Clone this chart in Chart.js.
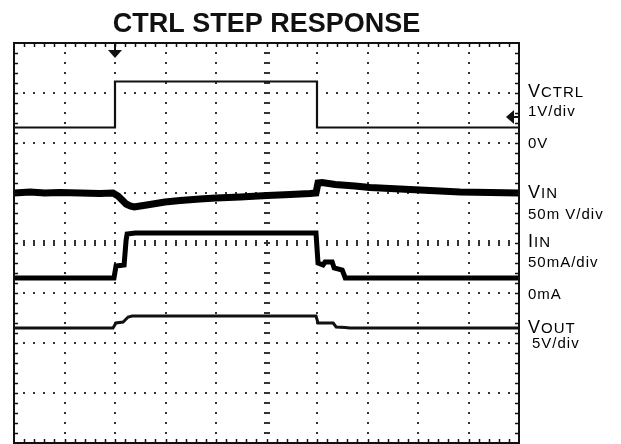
<!DOCTYPE html>
<html>
<head>
<meta charset="utf-8">
<title>CTRL STEP RESPONSE</title>
<script src="https://cdn.jsdelivr.net/npm/chart.js@4.4.1/dist/chart.umd.min.js"></script>
<style>
  html, body { margin: 0; padding: 0; background: #ffffff; }
  #wrap { width: 621px; height: 444px; }
</style>
</head>
<body>
<div id="wrap"><canvas id="scopeChart" width="621" height="444"></canvas></div>
<script>
// time axis in divisions (10 div across), amplitude in divisions (-4..+4)
const vctrlX = [0, 2, 2, 6, 6, 10];
const vctrlY = [2.31, 2.31, 3.23, 3.23, 2.31, 2.31];

const vinX = [0, 0.32, 0.61, 0.91, 1.31, 1.70, 1.96, 2.06, 2.14, 2.22, 2.30, 2.38, 2.50, 2.69, 2.99, 3.29, 3.68,
              4.00, 4.48, 5.01, 5.47, 5.86, 5.98, 6.02, 6.10, 6.36, 6.75, 7.05, 7.64, 8.24, 8.83, 9.43, 10];
const vinY = [1.00, 1.02, 1.00, 1.01, 1.00, 0.99, 1.00, 0.94, 0.86, 0.78, 0.74, 0.72, 0.74, 0.77, 0.82, 0.85, 0.88,
              0.90, 0.92, 0.95, 0.97, 0.99, 1.00, 1.20, 1.21, 1.17, 1.14, 1.11, 1.08, 1.05, 1.02, 1.01, 1.00];

const iinX = [0, 1.98, 2.02, 2.18, 2.22, 2.24, 2.40, 5.98, 6.02, 6.12, 6.16, 6.30, 6.34, 6.50, 6.56, 10];
const iinY = [-0.70, -0.70, -0.46, -0.44, 0.06, 0.18, 0.20, 0.20, -0.40, -0.44, -0.38, -0.38, -0.50, -0.54, -0.70, -0.70];

const voutX = [0, 1.96, 2.02, 2.16, 2.26, 2.34, 5.98, 6.02, 6.32, 6.38, 6.56, 6.65, 10];
const voutY = [-1.70, -1.70, -1.60, -1.58, -1.48, -1.46, -1.46, -1.60, -1.60, -1.68, -1.69, -1.70, -1.70];

const triggerAt = 2;        // trigger marker (div)
const vctrlMarker = 2.52;   // channel marker on right edge (div)

const chartTitle = 'CTRL STEP RESPONSE';
const sideLabels = [
    { big: 'V', small: 'CTRL', level: 2.92 },
    { text: '1V/div', level: 2.54 },
    { text: '0V', level: 1.90 },
    { big: 'V', small: 'IN', level: 0.90 },
    { text: '50m V/div', level: 0.48 },
    { big: 'I', small: 'IN', level: -0.08 },
    { text: '50mA/div', level: -0.48 },
    { text: '0mA', level: -1.12 },
    { big: 'V', small: 'OUT', level: -1.80 },
    { text: '5V/div', level: -2.10, indent: 4 }
];

const toPoints = (xs, ys) => xs.map((x, i) => ({ x: x, y: ys[i] }));

// ----------------------------------------------------
// Scope graticule: dotted grid, center axes, edge ticks
// ----------------------------------------------------
const graticule = {
    id: 'graticule',
    beforeDatasetsDraw(chart) {
        const ctx = chart.ctx;
        const xs = chart.scales.x, ys = chart.scales.y;
        ctx.save();
        ctx.fillStyle = '#333';
        // dotted major lines
        for (let gx = 1; gx < 10; gx++) {
            const px = Math.round(xs.getPixelForValue(gx));
            for (let k = 1; k < 40; k++) {
                const py = ys.getPixelForValue(4 - k * 0.2);
                if (gx === 5) ctx.fillRect(px - 3, Math.round(py) - 1, 6, 2);
                else ctx.fillRect(px - 1, Math.round(py) - 1, 2, 2);
            }
        }
        for (let gy = -3; gy <= 3; gy++) {
            const py = Math.round(ys.getPixelForValue(gy));
            for (let k = 1; k < 50; k++) {
                const px = xs.getPixelForValue(k * 0.2);
                if (gy === 0) ctx.fillRect(Math.round(px) - 1, py - 3, 2, 6);
                else ctx.fillRect(Math.round(px) - 1, py - 1, 2, 2);
            }
        }
        ctx.restore();
    },
    afterDraw(chart) {
        const ctx = chart.ctx;
        const a = chart.chartArea;
        const xs = chart.scales.x, ys = chart.scales.y;
        ctx.save();
        // frame
        ctx.strokeStyle = '#111';
        ctx.lineWidth = 2;
        ctx.strokeRect(a.left, a.top, a.right - a.left, a.bottom - a.top);
        // minor ticks on every edge
        ctx.lineWidth = 1.5;
        ctx.beginPath();
        for (let k = 1; k < 50; k++) {
            const px = Math.round(xs.getPixelForValue(k * 0.2)) + 0.5;
            ctx.moveTo(px, a.top); ctx.lineTo(px, a.top + 4);
            ctx.moveTo(px, a.bottom); ctx.lineTo(px, a.bottom - 4);
        }
        for (let k = 1; k < 40; k++) {
            const py = Math.round(ys.getPixelForValue(4 - k * 0.2)) + 0.5;
            ctx.moveTo(a.left, py); ctx.lineTo(a.left + 4, py);
            ctx.moveTo(a.right, py); ctx.lineTo(a.right - 4, py);
        }
        ctx.stroke();

        // trigger marker
        const tx = xs.getPixelForValue(triggerAt);
        ctx.fillStyle = '#111';
        ctx.fillRect(tx - 1, a.top, 2, 9);
        ctx.beginPath();
        ctx.moveTo(tx - 7, a.top + 7);
        ctx.lineTo(tx + 7, a.top + 7);
        ctx.lineTo(tx, a.top + 15);
        ctx.closePath();
        ctx.fill();

        // channel marker on right edge
        const my = ys.getPixelForValue(vctrlMarker);
        ctx.fillRect(a.right - 6, my - 1, 6, 2);
        ctx.beginPath();
        ctx.moveTo(a.right - 13, my);
        ctx.lineTo(a.right - 5, my - 7);
        ctx.lineTo(a.right - 5, my + 7);
        ctx.closePath();
        ctx.fill();

        // channel labels
        ctx.fillStyle = '#000';
        ctx.textBaseline = 'alphabetic';
        ctx.letterSpacing = '1px';
        const lx = a.right + 9;
        sideLabels.forEach(l => {
            const py = ys.getPixelForValue(l.level);
            if (l.text) {
                ctx.font = '15px "Liberation Sans", Arial, sans-serif';
                ctx.fillText(l.text, lx + (l.indent || 0), py);
            } else {
                ctx.font = '18px "Liberation Sans", Arial, sans-serif';
                ctx.fillText(l.big, lx, py);
                const w = ctx.measureText(l.big).width;
                ctx.font = '15px "Liberation Sans", Arial, sans-serif';
                ctx.fillText(l.small, lx + w, py);
            }
        });
        ctx.restore();
    }
};

const ctxScope = document.getElementById('scopeChart').getContext('2d');
new Chart(ctxScope, {
    type: 'line',
    data: {
        datasets: [
            { label: 'VCTRL', data: toPoints(vctrlX, vctrlY), borderColor: '#111', borderWidth: 2.2 },
            { label: 'VIN', data: toPoints(vinX, vinY), borderColor: '#000', borderWidth: 7 },
            { label: 'IIN', data: toPoints(iinX, iinY), borderColor: '#000', borderWidth: 5 },
            { label: 'VOUT', data: toPoints(voutX, voutY), borderColor: '#111', borderWidth: 3 }
        ]
    },
    options: {
        responsive: false,
        animation: false,
        events: [],
        layout: { padding: { left: 14, right: 102, top: 0, bottom: 1 } },
        elements: {
            point: { radius: 0 },
            line: { tension: 0, fill: false, borderJoinStyle: 'miter' }
        },
        plugins: {
            legend: { display: false },
            tooltip: { enabled: false },
            title: {
                display: true,
                text: chartTitle,
                color: '#111',
                font: { family: '"Liberation Sans", Arial, sans-serif', size: 27, weight: 'bold', lineHeight: 1.2 },
                padding: { top: 8, bottom: 2.6 }
            }
        },
        scales: {
            x: { type: 'linear', min: 0, max: 10, display: false },
            y: { type: 'linear', min: -4, max: 4, display: false }
        }
    },
    plugins: [graticule]
});
</script>
</body>
</html>
